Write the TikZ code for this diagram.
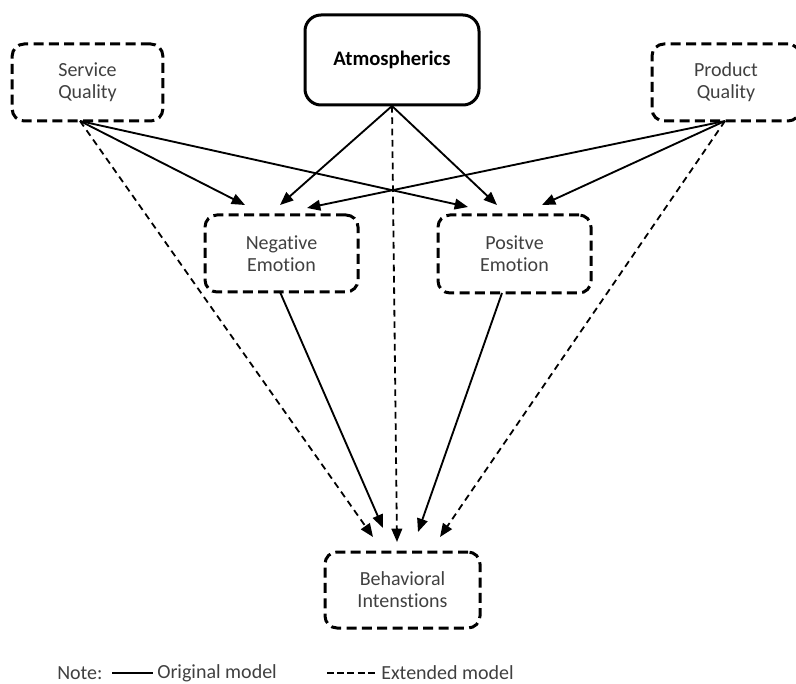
\documentclass[tikz,border=0pt]{standalone}
\usepackage{fontspec}
\setmainfont[Ligatures=NoCommon]{Carlito}
\usetikzlibrary{arrows.meta,calc}
\begin{document}
\begin{tikzpicture}[x=0.75pt,y=-0.75pt,
 dbox/.style={draw=black, line width=2.25pt, dash pattern=on 7.5pt off 4pt, rounded corners=9pt, align=center, font=\fontsize{15}{16.5}\selectfont, text=black!75, inner sep=0pt},
 sbox/.style={draw=black, line width=2.25pt, rounded corners=12pt, align=center, font=\fontsize{15.5}{16.5}\selectfont\bfseries, inner sep=0pt},
 sarr/.style={line width=1.4pt, -{Triangle[length=10pt,width=8pt]}},
 darr/.style={sarr, line width=1.35pt, dash pattern=on 5pt off 3.5pt},
 lbl/.style={font=\fontsize{15}{16.5}\selectfont, text=black!75, inner sep=0pt, anchor=west},
 legline/.style={line width=1.3pt}]
\useasboundingbox (0,0) rectangle (796,684);
\begin{scope}
\clip (0,0) rectangle (796,684);
\node[dbox, minimum width=113pt, minimum height=57.75pt] (sq) at (87.5,82.5) {Service\\Quality};
\node[sbox, minimum width=130.5pt, minimum height=67.5pt] (at) at (392,60) {Atmospherics};
\node[dbox, minimum width=111pt, minimum height=57.75pt] (pq) at (726,82.5) {Product\\Quality};
\node[dbox, minimum width=114.75pt, minimum height=57.75pt] (ne) at (281.5,253.5) {Negative\\Emotion};
\node[dbox, minimum width=114.75pt, minimum height=58.5pt] (po) at (514.5,254) {Positve\\Emotion};
\node[dbox, minimum width=116.25pt, minimum height=57pt] (bi) at (402.5,590) {Behavioral\\Intenstions};
\end{scope}
% start and end points
\coordinate (s0) at (80,121);
\coordinate (a0) at (392,106);
\coordinate (p0) at (725,121);
\coordinate (ne0) at (280,292);
\coordinate (po0) at (502,293);
\coordinate (sqne) at (245,205);
\coordinate (sqpo) at (468,207);
\coordinate (sqbi) at (373,537);
\coordinate (atne) at (280,205);
\coordinate (atpo) at (497,205);
\coordinate (atbi) at (397,542);
\coordinate (pqne) at (307,208);
\coordinate (pqpo) at (542,205);
\coordinate (pqbi) at (440,537);
\coordinate (nebi) at (383,528);
\coordinate (pobi) at (418,532);
% connectors
\draw[sarr] (s0) -- (sqne);
\draw[sarr] (s0) -- (sqpo);
\draw[darr] (s0) -- (sqbi);
\draw[sarr] (a0) -- (atne);
\draw[sarr] (a0) -- (atpo);
\draw[darr] (a0) -- (atbi);
\draw[sarr] (p0) -- (pqne);
\draw[sarr] (p0) -- (pqpo);
\draw[darr] (p0) -- (pqbi);
\draw[sarr] (ne0) -- (nebi);
\draw[sarr] (po0) -- (pobi);
% legend
\node[lbl] (note) at (57,673) {Note:};
\node[lbl] (orig) at (157,673) {Original model};
\node[lbl] (ext) at (381,673) {Extended model};
\coordinate (l1a) at (112,673);
\coordinate (l1b) at (153,673);
\coordinate (l2a) at (327,673);
\coordinate (l2b) at (377,673);
\draw[legline] (l1a) -- (l1b);
\draw[legline, dash pattern=on 5.25pt off 2.4pt] (l2a) -- (l2b);
\end{tikzpicture}
\end{document}
